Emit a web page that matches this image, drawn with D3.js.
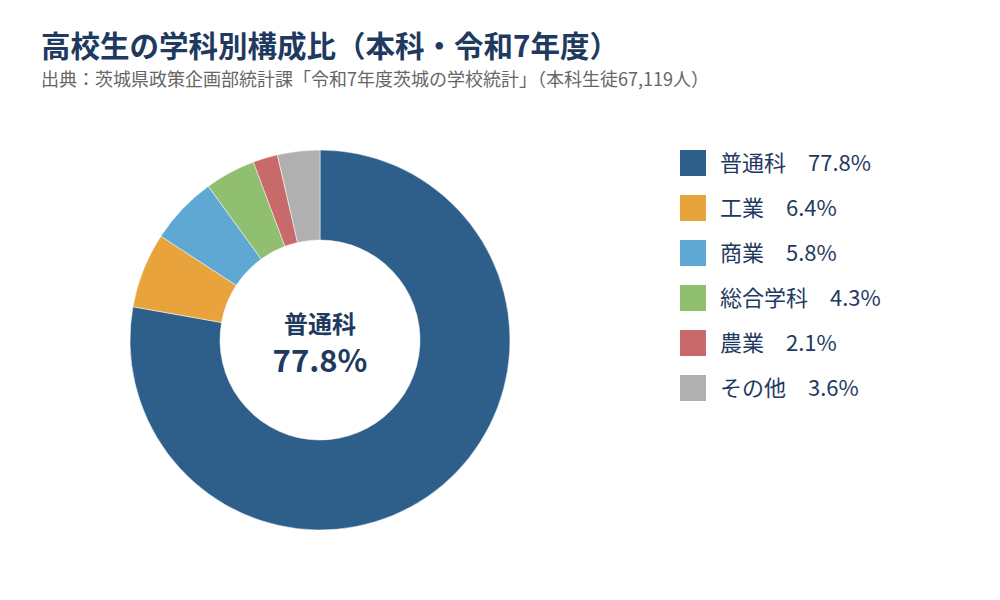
<!DOCTYPE html>
<html>
<head>
<meta charset="utf-8">
<script src="https://cdn.jsdelivr.net/npm/d3@7"></script>
<style>
body { margin: 0; background: #fff; }
text { font-family: "Noto Sans CJK JP", "Noto Sans", sans-serif; }
</style>
</head>
<body>
<script>
var labels = ["普通科", "工業", "商業", "総合学科", "農業", "その他"];
var shares = [77.8, 6.4, 5.8, 4.3, 2.1, 3.6];
var colors = ["#2E5F8A", "#E8A33D", "#5FA8D3", "#8FBF6F", "#C96A6A", "#B0B0B0"];

var canvas = d3.select("body").append("svg")
    .attr("width", 1000)
    .attr("height", 600);

canvas.append("text")
    .attr("x", 41)
    .attr("y", 57)
    .attr("fill", "#1F3A5F")
    .attr("font-size", 29.5)
    .attr("font-weight", "bold")
    .text("高校生の学科別構成比（本科・令和7年度）");

canvas.append("text")
    .attr("x", 41)
    .attr("y", 86)
    .attr("fill", "#666")
    .attr("font-size", 18)
    .text("出典：茨城県政策企画部統計課「令和7年度茨城の学校統計」（本科生徒67,119人）");

var data = labels.map(function(l, i){
    return {label: l, value: shares[i], color: colors[i]};
});

var pie = d3.pie().sort(null).value(function(d){ return d.value; });
var arc = d3.arc().innerRadius(100).outerRadius(190);

var g = canvas.append("g").attr("transform", "translate(320,340)");

g.selectAll("path")
    .data(pie(data))
    .enter().append("path")
    .attr("d", arc)
    .attr("fill", function(d){ return d.data.color; })
    .attr("stroke", "#fff")
    .attr("stroke-width", 0.5);

g.append("text")
    .attr("text-anchor", "middle")
    .attr("y", -7)
    .attr("fill", "#1F3A5F")
    .attr("font-size", 24)
    .attr("font-weight", "bold")
    .text(labels[0]);

g.append("text")
    .attr("text-anchor", "middle")
    .attr("y", 32)
    .attr("fill", "#1F3A5F")
    .attr("font-size", 31)
    .attr("font-weight", "bold")
    .text(shares[0] + "%");

var legend = canvas.append("g").attr("transform", "translate(680,150)");

var items = legend.selectAll("g")
    .data(data)
    .enter().append("g")
    .attr("transform", function(d, i){ return "translate(0," + (i * 45) + ")"; });

items.append("rect")
    .attr("width", 26)
    .attr("height", 26)
    .attr("fill", function(d){ return d.color; });

items.append("text")
    .attr("x", 40)
    .attr("y", 21)
    .attr("fill", "#1F3A5F")
    .attr("font-size", 22)
    .text(function(d){ return d.label + "\u3000" + d.value.toFixed(1) + "%"; });
</script>
</body>
</html>
